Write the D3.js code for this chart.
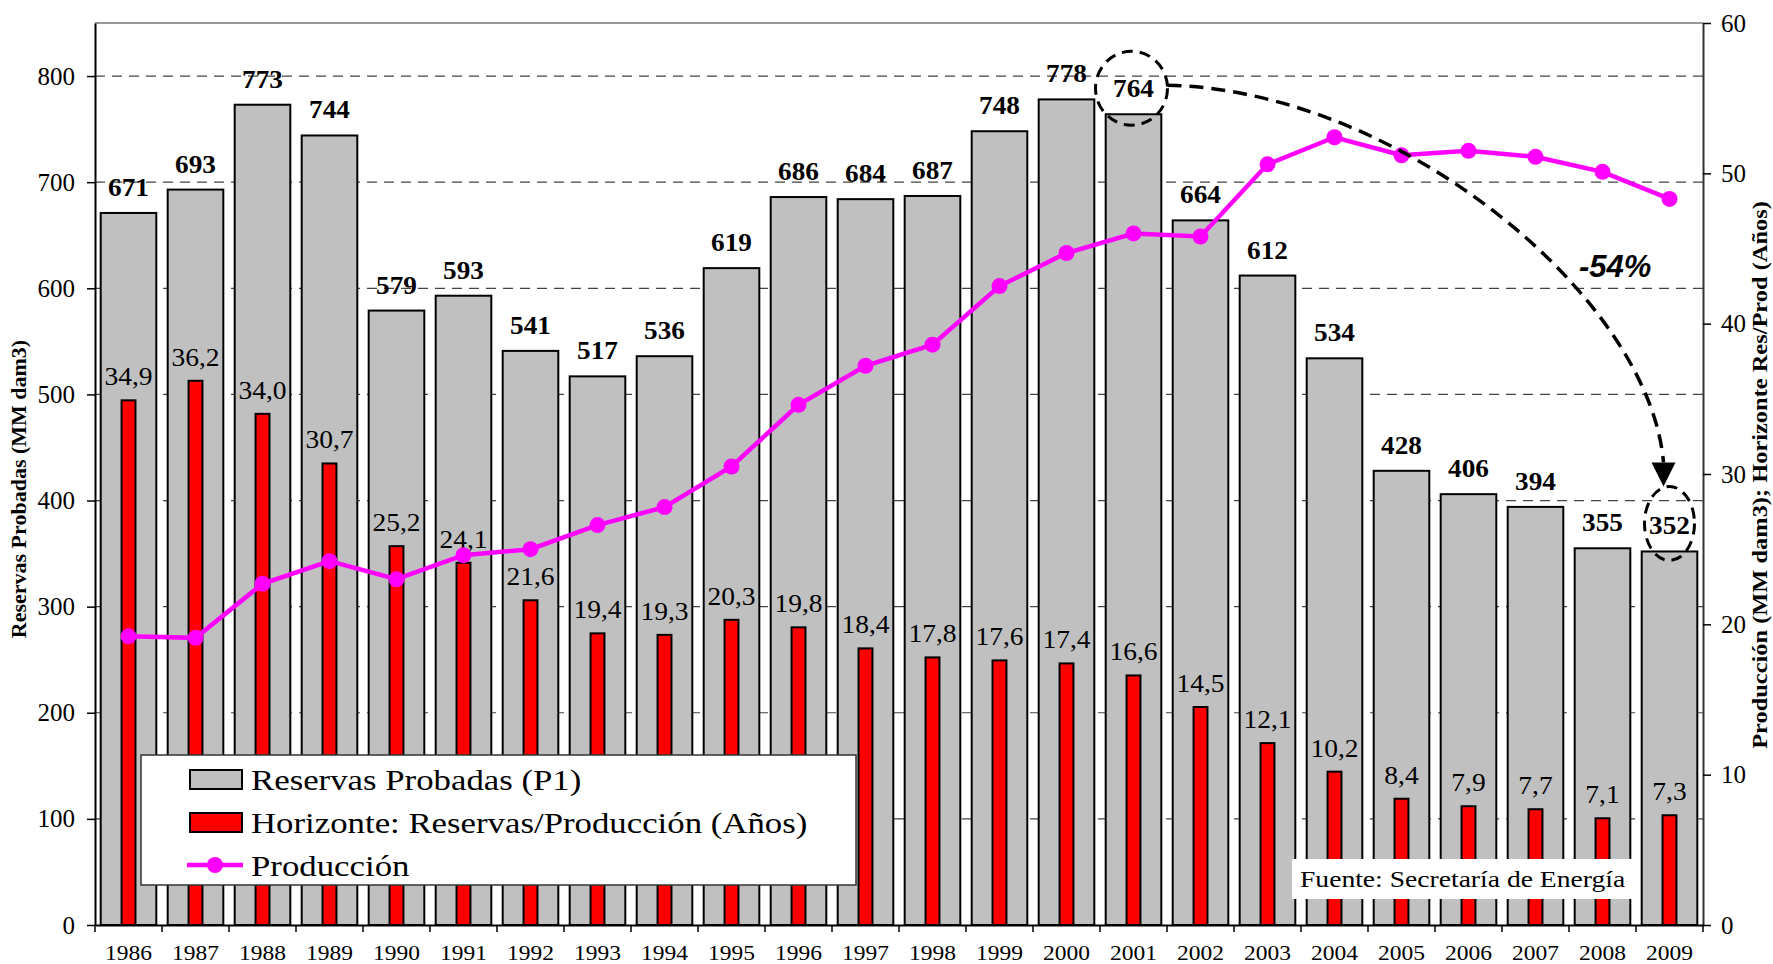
<!DOCTYPE html>
<html>
<head>
<meta charset="utf-8">
<script src="https://cdn.jsdelivr.net/npm/d3@7"></script>
<style>
body { margin: 0; background: #fff; }
svg text { font-family: "Liberation Serif", "Times New Roman", serif; fill: #000; }
</style>
</head>
<body>
<svg id="chart"></svg>
<script>
var years = ["1986","1987","1988","1989","1990","1991","1992","1993","1994","1995","1996","1997",
             "1998","1999","2000","2001","2002","2003","2004","2005","2006","2007","2008","2009"];
var reservas = [671,693,773,744,579,593,541,517,536,619,686,684,687,748,778,764,664,612,534,428,406,394,355,352];
var horizonte = [34.9,36.2,34.0,30.7,25.2,24.1,21.6,19.4,19.3,20.3,19.8,18.4,17.8,17.6,17.4,16.6,14.5,12.1,10.2,8.4,7.9,7.7,7.1,7.3];
var produccion = [19.2,19.1,22.7,24.2,23.0,24.6,25.0,26.6,27.8,30.5,34.6,37.2,38.6,42.5,44.7,46.0,45.8,50.6,52.4,51.2,51.5,51.1,50.1,48.3];
var leftTicks = [0,100,200,300,400,500,600,700,800];
var rightTicks = [0,10,20,30,40,50,60];
var legendLabels = ["Reservas Probadas (P1)", "Horizonte: Reservas/Producción (Años)", "Producción"];
var leftTitle = "Reservas Probadas (MM dam3)";
var rightTitle = "Producción (MM dam3); Horizonte Res/Prod (Años)";
var fuente = "Fuente: Secretaría de Energía";
var caida = "-54%";


// text in the original is a bit wider than Liberation Serif, so squeeze it out sideways
function placeText(sel, x, y, k, extra) {
    sel.attr('transform', (d,i) => `translate(${x(d,i)},${y(d,i)})${extra || ''} scale(${k},1)`);
}


class ReservasChart {

    constructor( config ) {
        this.config = {
            parent: config.parent,
            width: config.width || 1773,
            height: config.height || 964,
            margin: config.margin || {top:23, right:70, bottom:39, left:95},
        }
        this.data = years.map((y,i) => ({ year:y, res:reservas[i], hor:horizonte[i], prod:produccion[i] }));
        this.init();
    }

    init() {
        let self = this;
        self.svg = d3.select( self.config.parent )
            .attr('width', self.config.width)
            .attr('height', self.config.height);

        self.x0 = self.config.margin.left;
        self.x1 = self.config.width - self.config.margin.right;
        self.y0 = self.config.height - self.config.margin.bottom;
        self.y1 = self.config.margin.top;

        self.x = d3.scaleBand().domain(years).range([self.x0, 1703]).paddingInner(0.17).paddingOuter(0.085);
        self.yL = d3.scaleLinear().domain([0, 850]).range([self.y0, self.y1]);
        self.yR = d3.scaleLinear().domain([0, 60]).range([self.y0, self.y1]);
        self.xc = d => self.x(d) + self.x.bandwidth()/2;
    }

    render() {
        let self = this;
        let svg = self.svg;
        let xr = self.x.range()[1];

        // gridlines (left axis)
        svg.append('g').selectAll('line')
            .data(leftTicks.filter(t => t > 0))
            .enter().append('line')
            .attr('x1', self.x0).attr('x2', xr)
            .attr('y1', d => self.yL(d)).attr('y2', d => self.yL(d))
            .attr('stroke', '#444').attr('stroke-width', 1.2)
            .attr('stroke-dasharray', '10,7');

        // top border
        svg.append('line')
            .attr('x1', self.x0).attr('x2', xr)
            .attr('y1', self.y1).attr('y2', self.y1)
            .attr('stroke', '#777').attr('stroke-width', 1.5);

        // gray bars
        svg.append('g').selectAll('rect')
            .data(self.data).enter().append('rect')
            .attr('x', d => self.x(d.year))
            .attr('y', d => self.yL(d.res))
            .attr('width', self.x.bandwidth())
            .attr('height', d => self.y0 - self.yL(d.res))
            .attr('fill', '#C0C0C0').attr('stroke', '#000').attr('stroke-width', 2);

        // red bars
        let rw = self.x.bandwidth() * 0.25;
        svg.append('g').selectAll('rect')
            .data(self.data).enter().append('rect')
            .attr('x', d => self.xc(d.year) - rw/2)
            .attr('y', d => self.yR(d.hor))
            .attr('width', rw)
            .attr('height', d => self.y0 - self.yR(d.hor))
            .attr('fill', '#FF0000').attr('stroke', '#000').attr('stroke-width', 2);

        // value labels
        let lab1 = svg.append('g').selectAll('text')
            .data(self.data).enter().append('text')
            .attr('text-anchor', 'middle')
            .style('font-size', '25px').style('font-weight', 'bold')
            .text(d => d.res);
        placeText(lab1, d => self.xc(d.year), d => self.yL(d.res) - 17, 1.09);

        let lab2 = svg.append('g').selectAll('text')
            .data(self.data).enter().append('text')
            .attr('text-anchor', 'middle')
            .style('font-size', '25px')
            .text(d => d3.format('.1f')(d.hor).replace('.', ','));
        placeText(lab2, d => self.xc(d.year), d => self.yR(d.hor) - 15, 1.1);

        // produccion line
        let line = d3.line().x(d => self.xc(d.year)).y(d => self.yR(d.prod));
        svg.append('path')
            .datum(self.data)
            .attr('d', line)
            .attr('fill', 'none').attr('stroke', '#FF00FF').attr('stroke-width', 4.5);
        svg.append('g').selectAll('circle')
            .data(self.data).enter().append('circle')
            .attr('cx', d => self.xc(d.year))
            .attr('cy', d => self.yR(d.prod))
            .attr('r', 8)
            .attr('fill', '#FF00FF');

        // axes
        let axL = svg.append('g')
            .attr('transform', `translate(${self.x0},0)`)
            .call(d3.axisLeft(self.yL).tickValues(leftTicks).tickSize(8).tickSizeOuter(0).tickPadding(12));
        let axR = svg.append('g')
            .attr('transform', `translate(${xr},0)`)
            .call(d3.axisRight(self.yR).tickValues(rightTicks).tickSize(8).tickSizeOuter(0).tickPadding(10));
        let axB = svg.append('g')
            .attr('transform', `translate(0,${self.y0})`)
            .call(d3.axisBottom(self.x).tickSize(0).tickSizeOuter(0).tickPadding(20));
        [axL, axR, axB].forEach(a => {
            a.selectAll('text').style('font-family', '"Liberation Serif", serif').attr('fill', '#000');
            a.select('.domain').attr('stroke', '#000').attr('stroke-width', 2);
            a.selectAll('.tick line').attr('stroke', '#000').attr('stroke-width', 1.5);
        });
        axL.selectAll('text').style('font-size', '25px');
        axR.selectAll('text').style('font-size', '25px');
        axR.select('.domain').attr('stroke', '#333');
        axB.selectAll('text').style('font-size', '21px').attr('transform', 'scale(1.12,1)');

        // category boundary ticks
        let gap = (self.x.step() - self.x.bandwidth()) / 2;
        let bounds = years.map(y => self.x(y) - gap).concat([self.x(years[years.length-1]) + self.x.bandwidth() + gap]);
        svg.append('g').selectAll('line')
            .data(bounds).enter().append('line')
            .attr('x1', d => d).attr('x2', d => d)
            .attr('y1', self.y0).attr('y2', self.y0 + 7)
            .attr('stroke', '#000').attr('stroke-width', 1.5);

        // axis titles
        svg.append('text')
            .attr('transform', `translate(26,489) rotate(-90)`)
            .attr('text-anchor', 'middle')
            .style('font-size', '22px').style('font-weight', 'bold')
            .text(leftTitle);
        svg.append('text')
            .attr('transform', `translate(1767,${(self.y0 + self.y1)/2 + 1}) rotate(-90) scale(1.11,1)`)
            .attr('text-anchor', 'middle')
            .style('font-size', '22px').style('font-weight', 'bold')
            .text(rightTitle);

        // legend
        let lg = svg.append('g').attr('transform', 'translate(141,755)');
        lg.append('rect').attr('width', 715).attr('height', 130)
            .attr('fill', '#fff').attr('stroke', '#333').attr('stroke-width', 1.5);
        let sw = [{fill:'#C0C0C0'}, {fill:'#FF0000'}];
        lg.selectAll('rect.sw').data(sw).enter().append('rect')
            .attr('class', 'sw')
            .attr('x', 49).attr('y', (d,i) => 15 + i*43)
            .attr('width', 52).attr('height', 19)
            .attr('fill', d => d.fill).attr('stroke', '#000').attr('stroke-width', 2);
        lg.append('line').attr('x1', 46).attr('x2', 102).attr('y1', 110).attr('y2', 110)
            .attr('stroke', '#FF00FF').attr('stroke-width', 4.5);
        lg.append('circle').attr('cx', 74).attr('cy', 110).attr('r', 8).attr('fill', '#FF00FF');
        let lt = lg.selectAll('text.lt').data(legendLabels).enter().append('text')
            .attr('class', 'lt')
            .style('font-size', '30px')
            .text(d => d);
        placeText(lt, () => 110, (d,i) => 35 + i*43, 1.16);

        // fuente
        svg.append('rect').attr('x', 1292).attr('y', 859).attr('width', 340).attr('height', 40).attr('fill', '#fff');
        let ft = svg.append('text').style('font-size', '24px').text(fuente);
        placeText(ft, () => 1300, () => 887, 1.15);

        // annotation: ellipses and arrow
        let e1 = { cx: self.xc('2001') - 2, cy: self.yL(764) - 26, rx: 36, ry: 37 };
        let e2 = { cx: self.xc('2009'), cy: self.yL(352) - 28, rx: 25, ry: 37 };
        [e1, e2].forEach(e => {
            svg.append('ellipse')
                .attr('cx', e.cx).attr('cy', e.cy).attr('rx', e.rx).attr('ry', e.ry)
                .attr('fill', 'none').attr('stroke', '#000').attr('stroke-width', 3)
                .attr('stroke-dasharray', '11,7');
        });
        let sx = e1.cx + e1.rx, sy = e1.cy - 3;
        let tipX = e2.cx - 6, tipY = e2.cy - e2.ry, ex = tipX, ey = tipY - 24;
        let p = d3.path();
        p.moveTo(sx, sy);
        p.bezierCurveTo(sx + 232, sy + 5, ex - 14, ey - 165, ex, ey);
        svg.append('path').attr('d', p.toString())
            .attr('fill', 'none').attr('stroke', '#000').attr('stroke-width', 3.5)
            .attr('stroke-dasharray', '14,8');
        svg.append('path')
            .attr('d', `M${tipX},${tipY} L${tipX-12},${ey} L${tipX+12},${ey} Z`)
            .attr('fill', '#000');
        svg.append('text')
            .attr('x', 1579).attr('y', 277)
            .style('font-family', '"Liberation Sans", Arial, sans-serif')
            .style('font-size', '31px').style('font-weight', 'bold').style('font-style', 'italic')
            .text(caida);
    }
}

let chart = new ReservasChart({ parent: '#chart' });
chart.render();
</script>
</body>
</html>
